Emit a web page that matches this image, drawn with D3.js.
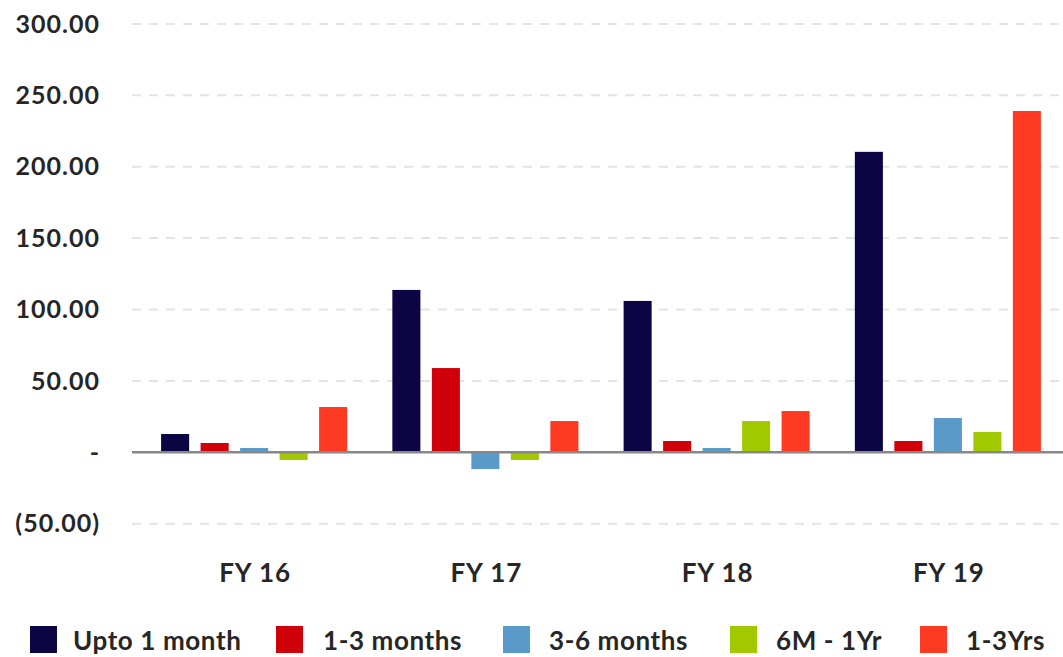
<!DOCTYPE html>
<html><head><meta charset="utf-8">
<script src="https://cdn.jsdelivr.net/npm/d3@7"></script>
<style>body{margin:0;background:#fff;} text{font-family:Lato, "Open Sans", sans-serif;font-weight:700;fill:#262626;}</style>
</head><body>
<svg id="c" width="1063" height="657"></svg>
<script>
const categories = ["FY 16", "FY 17", "FY 18", "FY 19"];
const seriesNames = ["Upto 1 month", "1-3 months", "3-6 months", "6M - 1Yr", "1-3Yrs"];
const seriesColors = ["#0b0544", "#d0000b", "#5a9ac8", "#a2c800", "#ff3a22"];
const upto1m   = [12.8, 113.7, 106.0, 210.4];
const m1to3    = [6.5, 59.0, 7.9, 7.9];
const m3to6    = [3.0, -11.7, 3.0, 24.0];
const m6to1y   = [-5.4, -5.4, 21.9, 14.2];
const y1to3    = [31.7, 21.9, 28.9, 239.0];
const yTicks = [-50, 0, 50, 100, 150, 200, 250, 300];
const yTickLabels = ["(50.00)", "-", "50.00", "100.00", "150.00", "200.00", "250.00", "300.00"];

const series = [upto1m, m1to3, m3to6, m6to1y, y1to3];
const svg = d3.select("#c");
const y = d3.scaleLinear().domain([-50, 300]).range([523.7, 23.9]);
const x0 = d3.scaleBand().domain(categories).range([138.5, 1063.5]);
const x1 = d3.scaleBand().domain(d3.range(5)).range([-98.75, 98.75]).paddingInner(0.29).paddingOuter(0.145);

// gridlines
svg.append("g").selectAll("line").data(yTicks.filter(d => d !== 0)).join("line")
  .attr("x1", 132).attr("x2", 1060)
  .attr("y1", d => y(d)).attr("y2", d => y(d))
  .attr("stroke", "#e4e4e4").attr("stroke-width", 2).attr("stroke-dasharray", "9,8");

// y labels
svg.append("g").selectAll("text").data(yTicks).join("text")
  .attr("x", 100).attr("y", d => y(d)).attr("dy", "0.35em")
  .attr("text-anchor", "end").attr("font-size", 25).attr("letter-spacing", 1)
  .text((d, i) => yTickLabels[i]);

// bars
const g = svg.append("g");
categories.forEach((c, ci) => {
  const cx = x0(c) + x0.bandwidth() / 2;
  series.forEach((s, si) => {
    const v = s[ci];
    g.append("rect")
      .attr("x", cx + x1(si))
      .attr("width", x1.bandwidth())
      .attr("y", y(Math.max(0, v)))
      .attr("height", Math.abs(y(v) - y(0)))
      .attr("fill", seriesColors[si]);
  });
});

// zero line
svg.append("line").attr("x1", 132).attr("x2", 1063)
  .attr("y1", y(0)).attr("y2", y(0)).attr("stroke", "#878787").attr("stroke-width", 2.5);

// category labels
svg.append("g").selectAll("text").data(categories).join("text")
  .attr("x", d => x0(d) + x0.bandwidth() / 2 + 1).attr("y", 582)
  .attr("text-anchor", "middle").attr("font-size", 26).attr("letter-spacing", 1)
  .text(d => d);

// legend
const legX = [30, 276, 503, 730, 920];
const legTX = [73, 323, 549, 776, 966];
const leg = svg.append("g");
seriesNames.forEach((n, i) => {
  leg.append("rect").attr("x", legX[i]).attr("y", 626).attr("width", 27).attr("height", 27).attr("fill", seriesColors[i]);
  leg.append("text").attr("x", legTX[i]).attr("y", 650).attr("font-size", 26).attr("letter-spacing", 0.6).text(n);
});
</script>
</body></html>
